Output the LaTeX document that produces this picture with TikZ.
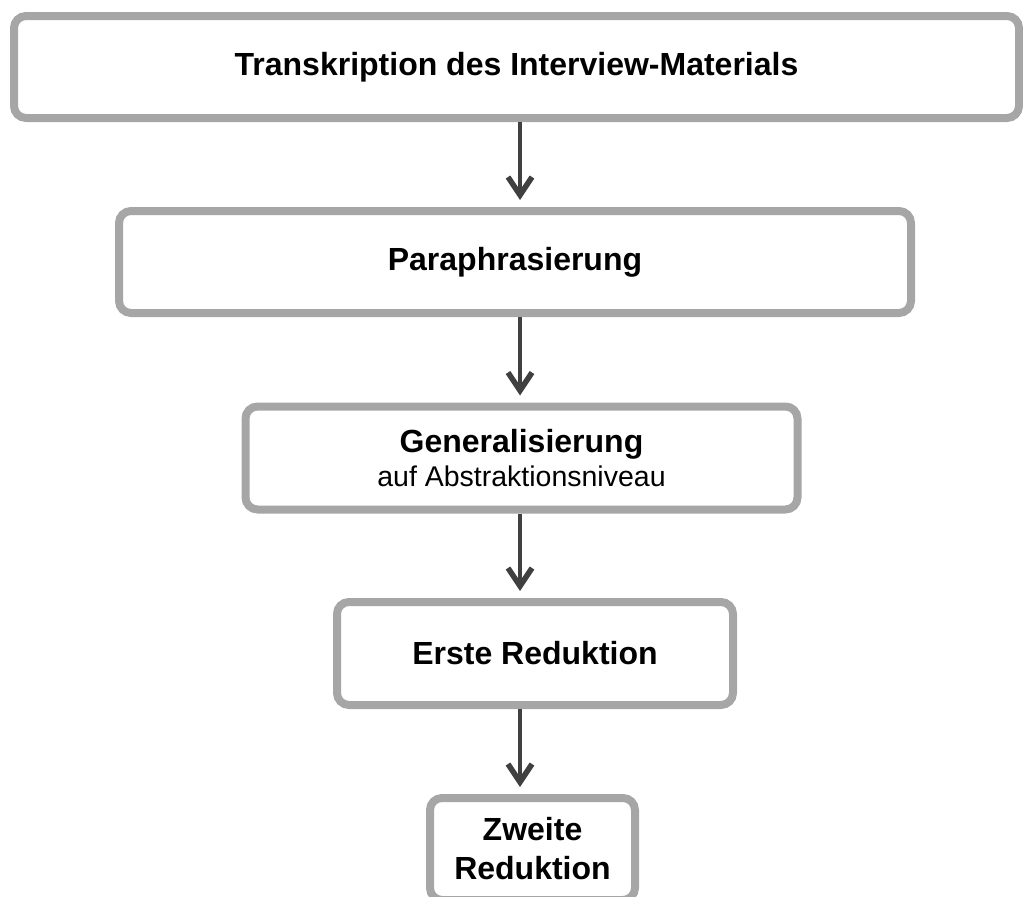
\documentclass[tikz,border=0pt]{standalone}
\usepackage{fontspec}
\setmainfont{Liberation Sans}
\usepackage{tikz}
\usetikzlibrary{arrows.meta}

\definecolor{boxgray}{HTML}{A6A6A6}
\definecolor{arrgray}{HTML}{404040}

\tikzset{
  stage/.style={shape=rectangle,draw=boxgray,line width=8pt,rounded corners=12pt,
    fill=white,align=center,font=\fontsize{32}{37}\selectfont\bfseries,inner sep=0pt},
  flow/.style={draw=arrgray,line width=4.5pt,shorten >=7pt,
    -{Straight Barb[length=18pt,width=24pt,line width=5.5pt]}}
}

\begin{document}
\begin{tikzpicture}[x=1pt,y=-1pt]
\useasboundingbox (0,0) rectangle (1023,897);

\node[stage,minimum width=1005pt,minimum height=102pt] (T) at (516.5,67) {Transkription des Interview-Materials};
\node[stage,minimum width=792pt,minimum height=102pt] (P) at (515,262) {Paraphrasierung};
\node[stage,minimum width=552pt,minimum height=103pt] (G) at (521.5,458)
  {Generalisierung\\[-3pt]{\fontsize{28.5}{33}\selectfont\mdseries auf Abstraktionsniveau}};
\node[stage,minimum width=396pt,minimum height=103pt] (E) at (535,653.5) {Erste Reduktion};
\node[stage,minimum width=205pt,minimum height=102pt] (Z) at (532.5,849) {Zweite\\[2pt]Reduktion};

\coordinate (ax) at (520,0);

\draw [flow] (T.south -| ax) -- (P.north -| ax);
\draw [flow] (P.south -| ax) -- (G.north -| ax);
\draw [flow] (G.south -| ax) -- (E.north -| ax);
\draw [flow] (E.south -| ax) -- (Z.north -| ax);

\end{tikzpicture}
\end{document}
